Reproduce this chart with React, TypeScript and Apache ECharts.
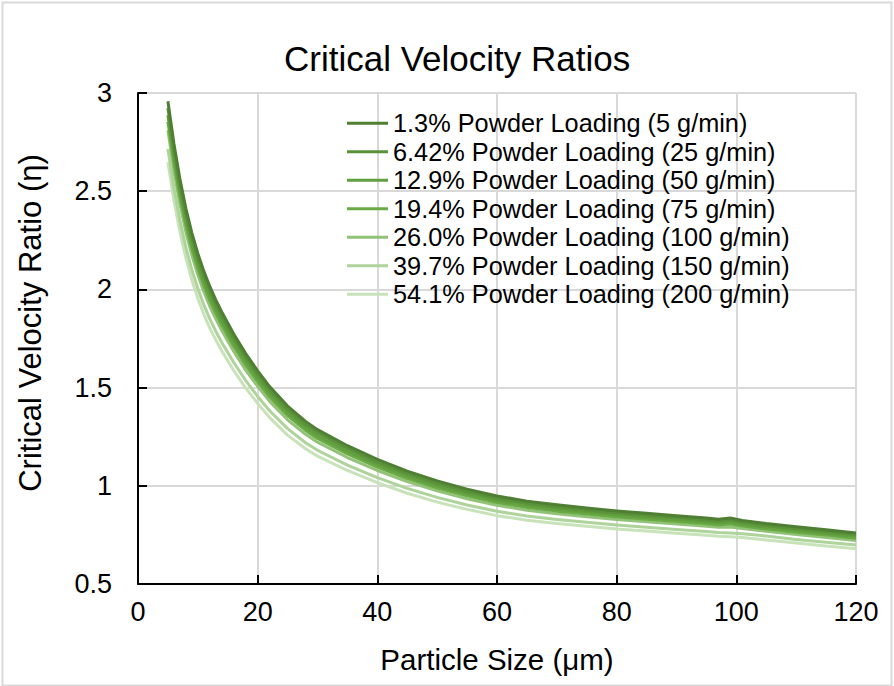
import React, { useEffect, useRef } from "react";
import * as echarts from "echarts";

// Particle sizes (µm) at which the critical velocity ratio is sampled
const particleSize = [
  5, 6, 7, 8, 9, 10, 11, 12, 13, 14, 16, 18, 20, 22, 25, 28, 30, 35, 40, 45, 50,
  55, 60, 65, 70, 75, 80, 85, 90, 95, 97, 99, 101, 105, 110, 115, 120,
];

const seriesNames = [
  "1.3% Powder Loading (5 g/min)",
  "6.42% Powder Loading (25 g/min)",
  "12.9% Powder Loading (50 g/min)",
  "19.4% Powder Loading (75 g/min)",
  "26.0% Powder Loading (100 g/min)",
  "39.7% Powder Loading (150 g/min)",
  "54.1% Powder Loading (200 g/min)",
];

const loading1_3 = [
  2.958, 2.743, 2.563, 2.413, 2.288, 2.183, 2.093, 2.015, 1.947, 1.885, 1.773,
  1.673, 1.585, 1.505, 1.406, 1.328, 1.286, 1.204, 1.135, 1.075, 1.025, 0.983,
  0.948, 0.922, 0.903, 0.887, 0.872, 0.86, 0.848, 0.836, 0.83, 0.836, 0.824,
  0.808, 0.792, 0.776, 0.76,
];
const loading6_42 = [
  2.923, 2.71, 2.532, 2.384, 2.261, 2.157, 2.068, 1.991, 1.924, 1.862, 1.752,
  1.653, 1.566, 1.487, 1.389, 1.312, 1.271, 1.19, 1.121, 1.062, 1.013, 0.971,
  0.937, 0.911, 0.892, 0.876, 0.862, 0.85, 0.838, 0.826, 0.82, 0.826, 0.814,
  0.798, 0.782, 0.767, 0.751,
];
const loading12_9 = [
  2.887, 2.677, 2.501, 2.355, 2.233, 2.131, 2.043, 1.967, 1.9, 1.84, 1.73,
  1.633, 1.547, 1.469, 1.372, 1.296, 1.255, 1.175, 1.108, 1.049, 1.0, 0.959,
  0.925, 0.9, 0.881, 0.866, 0.851, 0.839, 0.828, 0.816, 0.81, 0.816, 0.804,
  0.789, 0.773, 0.757, 0.742,
];
const loading19_4 = [
  2.854, 2.647, 2.473, 2.329, 2.208, 2.107, 2.02, 1.944, 1.879, 1.819, 1.711,
  1.614, 1.53, 1.452, 1.357, 1.282, 1.241, 1.162, 1.095, 1.037, 0.989, 0.949,
  0.915, 0.89, 0.871, 0.856, 0.841, 0.83, 0.818, 0.807, 0.801, 0.805, 0.795,
  0.78, 0.764, 0.749, 0.733,
];
const loading26_0 = [
  2.81, 2.606, 2.435, 2.292, 2.174, 2.074, 1.988, 1.914, 1.85, 1.791, 1.684,
  1.589, 1.506, 1.43, 1.336, 1.262, 1.222, 1.144, 1.078, 1.021, 0.974, 0.934,
  0.901, 0.876, 0.858, 0.843, 0.828, 0.817, 0.806, 0.794, 0.789, 0.79, 0.783,
  0.768, 0.752, 0.737, 0.722,
];
const loading39_7 = [
  2.715, 2.518, 2.353, 2.215, 2.1, 2.004, 1.921, 1.85, 1.787, 1.73, 1.628,
  1.536, 1.455, 1.382, 1.291, 1.219, 1.181, 1.105, 1.042, 0.987, 0.941, 0.902,
  0.87, 0.846, 0.829, 0.814, 0.8, 0.789, 0.778, 0.767, 0.762, 0.76, 0.756,
  0.744, 0.727, 0.712, 0.698,
];
const loading54_1 = [
  2.647, 2.455, 2.294, 2.16, 2.048, 1.954, 1.873, 1.803, 1.743, 1.687, 1.587,
  1.497, 1.419, 1.347, 1.258, 1.189, 1.151, 1.078, 1.016, 0.962, 0.917, 0.88,
  0.848, 0.825, 0.808, 0.794, 0.78, 0.77, 0.759, 0.748, 0.743, 0.741, 0.737,
  0.724, 0.709, 0.694, 0.68,
];

const seriesValues = [
  loading1_3,
  loading6_42,
  loading12_9,
  loading19_4,
  loading26_0,
  loading39_7,
  loading54_1,
];

const seriesColors = [
  "#4f7f32",
  "#5a9239",
  "#629f3f",
  "#6bab46",
  "#92c277",
  "#aed39b",
  "#c8e2ba",
];

const FONT = "'Liberation Sans', Arial, sans-serif";

export default function App() {
  const ref = useRef<HTMLDivElement>(null);

  useEffect(() => {
    if (!ref.current) return;
    const chart = echarts.init(ref.current, undefined, { renderer: "svg" });

    const series = seriesNames.map((name, i) => ({
      name,
      type: "line",
      data: particleSize.map((x, j) => [x, seriesValues[i][j]]),
      showSymbol: false,
      symbol: "none",
      smooth: false,
      lineStyle: { width: 3, color: seriesColors[i], join: "round" },
      itemStyle: { color: seriesColors[i] },
      z: 10 - i,
    }));

    chart.setOption({
      animation: false,
      backgroundColor: "#ffffff",
      textStyle: { fontFamily: FONT, color: "#000" },
      title: {
        text: "Critical Velocity Ratios",
        left: 279,
        top: 36,
        textStyle: {
          fontFamily: FONT,
          fontSize: 35,
          fontWeight: "normal",
          color: "#000",
        },
      },
      legend: {
        orient: "vertical",
        left: 347,
        top: 109,
        padding: 0,
        itemWidth: 41,
        itemHeight: 12,
        itemGap: 0,
        icon: "path://M0,0 L41,0 L41,3 L0,3 Z",
        textStyle: {
          fontFamily: FONT,
          fontSize: 25.3,
          color: "#000",
          lineHeight: 28.5,
          padding: [0, 0, 0, 0],
        },
        data: seriesNames.map((name, i) => ({
          name,
          itemStyle: { color: seriesColors[i] },
        })),
      },
      grid: { left: 138, right: 38, top: 93, bottom: 102 },
      xAxis: {
        type: "value",
        min: 0,
        max: 120,
        interval: 20,
        name: "Particle Size (μm)",
        nameLocation: "middle",
        nameGap: 60,
        nameTextStyle: { fontFamily: FONT, fontSize: 29.5, color: "#000" },
        axisLine: { show: true, lineStyle: { color: "#000", width: 2 } },
        axisTick: {
          show: true,
          inside: true,
          length: 9,
          lineStyle: { color: "#000", width: 2 },
        },
        axisLabel: { fontFamily: FONT, fontSize: 27, color: "#000", margin: 14 },
        splitLine: { show: true, lineStyle: { color: "#d9d9d9", width: 2 } },
      },
      yAxis: {
        type: "value",
        min: 0.5,
        max: 3,
        interval: 0.5,
        axisLine: { show: true, lineStyle: { color: "#000", width: 2 } },
        axisTick: {
          show: true,
          inside: true,
          length: 9,
          lineStyle: { color: "#000", width: 2 },
        },
        axisLabel: { fontFamily: FONT, fontSize: 27, color: "#000", margin: 26 },
        splitLine: { show: true, lineStyle: { color: "#d9d9d9", width: 2 } },
      },
      graphic: [
        {
          type: "rect",
          left: 0,
          top: 0,
          shape: { x: 1, y: 1, width: 889, height: 683 },
          style: { fill: "none", stroke: "#d9d9d9", lineWidth: 2 },
          silent: true,
          z: -1,
        },
        {
          type: "text",
          x: 30,
          y: 323,
          rotation: Math.PI / 2,
          style: {
            text: "Critical Velocity Ratio (η)",
            font: `31px ${FONT}`,
            fill: "#000",
            align: "center",
            verticalAlign: "middle",
          },
          silent: true,
        },
      ],
      series,
    });

    return () => chart.dispose();
  }, []);

  return (
    <div
      ref={ref}
      style={{ position: "fixed", left: 0, top: 0, width: 894, height: 686 }}
    />
  );
}
